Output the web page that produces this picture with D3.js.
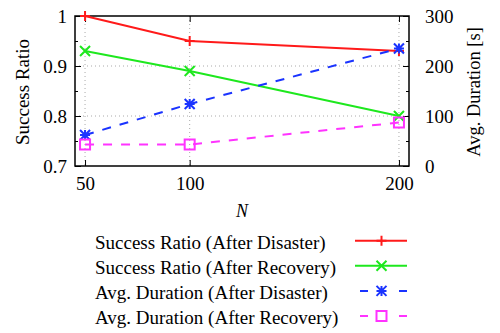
<html>
<head>
    <script src="https://d3js.org/d3.v7.min.js"></script>
</head>
<body style="margin:0;background:white">
<svg id="chart" width="500" height="333"></svg>
<script>
    // data
    const nValues = [50, 100, 200];
    const ratioDisaster = [1.0, 0.95, 0.93];
    const ratioRecovery = [0.93, 0.89, 0.80];
    const durDisaster = [62, 124, 235];
    const durRecovery = [43, 43, 87];
    const leftTicks = [0.7, 0.8, 0.9, 1];
    const rightTicks = [0, 100, 200, 300];
    const seriesNames = [
        "Success Ratio (After Disaster)",
        "Success Ratio (After Recovery)",
        "Avg. Duration (After Disaster)",
        "Avg. Duration (After Recovery)"
    ];

    const svg = d3.select("#chart");
    const plot = { left: 75, right: 409, top: 16, bottom: 166 };

    const x = d3.scaleLinear().domain([45.2, 204.8]).range([plot.left, plot.right]);
    const yL = d3.scaleLinear().domain([0.7, 1]).range([plot.bottom, plot.top]);
    const yR = d3.scaleLinear().domain([0, 300]).range([plot.bottom, plot.top]);

    // dotted grid
    const grid = svg.append("g");
    grid.selectAll("line.v").data(nValues).join("line")
        .attr("x1", d => x(d)).attr("x2", d => x(d))
        .attr("y1", plot.top).attr("y2", plot.bottom);
    grid.selectAll("line.h").data([0.8, 0.9]).join("line")
        .attr("x1", plot.left).attr("x2", plot.right)
        .attr("y1", d => yL(d)).attr("y2", d => yL(d));
    grid.selectAll("line").attr("stroke", "#aaa").attr("stroke-dasharray", "1,3");

    // axes with inward ticks
    const fmtL = d => d === 1 ? "1" : d3.format(".1f")(d);
    svg.append("g").attr("transform", `translate(${plot.left},0)`)
        .call(d3.axisLeft(yL).tickValues(leftTicks).tickSize(-6).tickPadding(8).tickFormat(fmtL));
    svg.append("g").attr("transform", `translate(${plot.left},0)`)
        .call(d3.axisLeft(yL).tickValues([0.75, 0.85, 0.95]).tickSize(-3).tickFormat(""));
    svg.append("g").attr("transform", `translate(${plot.right},0)`)
        .call(d3.axisRight(yR).tickValues(rightTicks).tickSize(-6).tickPadding(16));
    svg.append("g").attr("transform", `translate(${plot.right},0)`)
        .call(d3.axisRight(yR).tickValues([50, 150, 250]).tickSize(-3).tickFormat(""));
    svg.append("g").attr("transform", `translate(0,${plot.bottom})`)
        .call(d3.axisBottom(x).tickValues(nValues).tickSize(-6).tickPadding(11));
    svg.append("g").attr("transform", `translate(0,${plot.top})`)
        .call(d3.axisTop(x).tickValues(nValues).tickSize(-6).tickFormat(""));

    svg.selectAll(".domain").remove();
    svg.selectAll(".tick line").attr("stroke", "black");
    svg.selectAll(".tick text").attr("font-size", 19).attr("fill", "black");

    svg.append("rect")
        .attr("x", plot.left).attr("y", plot.top)
        .attr("width", plot.right - plot.left).attr("height", plot.bottom - plot.top)
        .attr("fill", "none").attr("stroke", "black").attr("stroke-width", 1.5);

    // axis titles
    svg.append("text").attr("transform", "translate(29,92) rotate(-90)")
        .attr("text-anchor", "middle").attr("font-size", 19).text("Success Ratio");
    svg.append("text").attr("transform", "translate(480,92) rotate(-90)")
        .attr("text-anchor", "middle").attr("font-size", 18.5).text("Avg. Duration [s]");
    svg.append("text").attr("x", 242).attr("y", 216.5).attr("text-anchor", "middle")
        .attr("font-size", 18).attr("font-style", "italic").text("N");

    // markers
    function drawMarker(g, type, color) {
        const s = 5;
        const p = d3.path();
        if (type === "plus" || type === "star") {
            p.moveTo(-s, 0); p.lineTo(s, 0); p.moveTo(0, -s); p.lineTo(0, s);
        }
        if (type === "cross" || type === "star") {
            p.moveTo(-s, -s); p.lineTo(s, s); p.moveTo(-s, s); p.lineTo(s, -s);
        }
        if (type === "square") {
            p.rect(-s, -s, 2 * s, 2 * s);
        }
        g.append("path").attr("d", p.toString()).attr("fill", "none")
            .attr("stroke", color).attr("stroke-width", 2);
    }

    const series = [
        { values: ratioDisaster, y: yL, color: "#ff1a1a", dash: null, marker: "plus" },
        { values: ratioRecovery, y: yL, color: "#1ee81e", dash: null, marker: "cross" },
        { values: durDisaster, y: yR, color: "#1a33ff", dash: "9,9", marker: "star" },
        { values: durRecovery, y: yR, color: "#ff33ff", dash: "9,9", marker: "square" }
    ];

    series.forEach(s => {
        const pts = nValues.map((n, i) => [x(n), s.y(s.values[i])]);
        svg.append("path").attr("d", d3.line()(pts))
            .attr("fill", "none").attr("stroke", s.color).attr("stroke-width", 2)
            .attr("stroke-dasharray", s.dash);
        pts.forEach(p => {
            const g = svg.append("g").attr("transform", `translate(${p[0]},${p[1]})`);
            drawMarker(g, s.marker, s.color);
        });
    });

    // legend
    const legend = svg.append("g");
    series.forEach((s, i) => {
        const yy = 240.7 + i * 25.1;
        legend.append("text").attr("x", 95).attr("y", yy + 8).attr("font-size", 19)
            .text(seriesNames[i]);
        if (s.dash) {
            legend.append("line").attr("x1", 360).attr("x2", 407).attr("y1", yy).attr("y2", yy)
                .attr("stroke", s.color).attr("stroke-width", 2)
                .attr("stroke-dasharray", "8,31,8");
        } else {
            legend.append("line").attr("x1", 355).attr("x2", 407).attr("y1", yy).attr("y2", yy)
                .attr("stroke", s.color).attr("stroke-width", 2);
        }
        const g = legend.append("g").attr("transform", `translate(381.5,${yy})`);
        drawMarker(g, s.marker, s.color);
    });

    // serif everywhere, set last so axis defaults don't override it
    svg.selectAll("text")
        .attr("font-family", "Liberation Serif")
        .style("font-family", "'Liberation Serif', 'Times New Roman', Times, serif");
</script>
</body>
</html>
